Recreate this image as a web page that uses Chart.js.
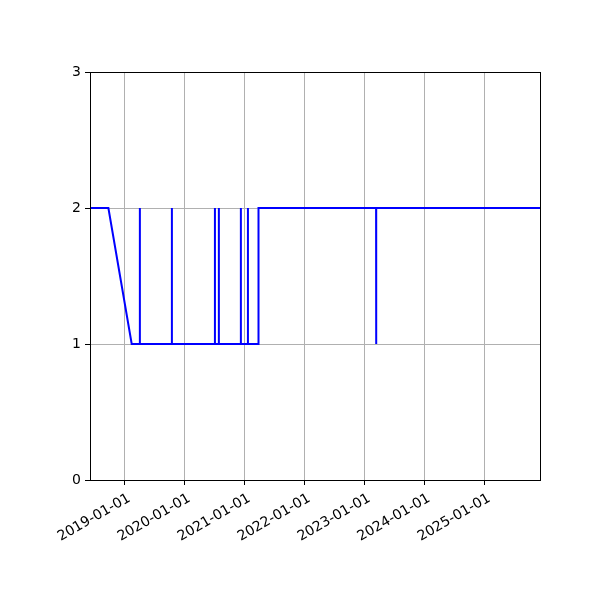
<!DOCTYPE html>
<html>
<head>
<meta charset="utf-8">
<script src="https://cdn.jsdelivr.net/npm/chart.js@4"></script>
<style>
html,body{margin:0;padding:0;background:#fff;}
#wrap{width:600px;height:600px;}
</style>
</head>
<body>
<div id="wrap"><canvas id="c" width="600" height="600"></canvas></div>
<script>
const dates = [
  '2018-06-06','2018-09-26','2019-02-15',
  '2019-04-05','2019-04-05','2019-04-06','2019-04-06',
  '2019-10-17','2019-10-17','2019-10-18','2019-10-18',
  '2020-07-05','2020-07-05','2020-07-06','2020-07-06',
  '2020-07-29','2020-07-29','2020-07-30','2020-07-30',
  '2020-12-10','2020-12-10','2020-12-11','2020-12-11',
  '2021-01-22','2021-01-22','2021-01-23','2021-01-23',
  '2021-03-28','2021-03-28',
  '2023-03-14','2023-03-14','2023-03-15','2023-03-15',
  '2025-12-06'
];
const values = [
  2,2,1,
  1,2,2,1,
  1,2,2,1,
  1,2,2,1,
  1,2,2,1,
  1,2,2,1,
  1,2,2,1,
  1,2,
  2,1,1,2,
  2
];
const xMin = '2018-06-06';
const xMax = '2025-12-06';
const yearTicks = ['2019-01-01','2020-01-01','2021-01-01','2022-01-01','2023-01-01','2024-01-01','2025-01-01'];
const yTicks = [0,1,2,3];

const ms = s => Date.parse(s + 'T00:00:00Z');
const fmt = v => new Date(v).toISOString().slice(0,10);

const points = dates.map((d,i) => ({x: ms(d), y: values[i]}));

const framePlugin = {
  id: 'frame',
  afterDraw(chart){
    const a = chart.chartArea, ctx = chart.ctx;
    ctx.save();
    ctx.strokeStyle = '#000';
    ctx.lineWidth = 1;
    ctx.strokeRect(Math.round(a.left)+0.5, Math.round(a.top)+0.5, Math.round(a.right-a.left), Math.round(a.bottom-a.top));
    ctx.restore();
  }
};

new Chart(document.getElementById('c'), {
  type: 'line',
  data: {
    datasets: [{
      data: points,
      borderColor: '#0000ff',
      borderWidth: 2,
      pointRadius: 0,
      tension: 0,
      fill: false
    }]
  },
  options: {
    responsive: false,
    animation: false,
    devicePixelRatio: 1,
    layout: {padding: {left: 0, top: 72, right: 60, bottom: 0}},
    plugins: {legend: {display: false}, tooltip: {enabled: false}},
    scales: {
      x: {
        type: 'linear',
        min: ms(xMin),
        max: ms(xMax),
        afterBuildTicks(scale){ scale.ticks = yearTicks.map(t => ({value: ms(t)})); },
        afterFit(scale){ scale.height = 120; },
        grid: {color: '#b0b0b0', lineWidth: 1, tickColor: '#000', tickLength: 5, drawTicks: true},
        border: {display: false},
        ticks: {
          color: '#000',
          font: {family: 'DejaVu Sans', size: 14},
          maxRotation: 30, minRotation: 30,
          padding: 5,
          labelOffset: 5,
          autoSkip: false,
          callback: v => fmt(v)
        }
      },
      y: {
        min: 0, max: 3,
        afterBuildTicks(scale){ scale.ticks = yTicks.map(v => ({value: v})); },
        afterFit(scale){ scale.width = 90; },
        grid: {color: '#b0b0b0', lineWidth: 1, tickColor: '#000', tickLength: 5, drawTicks: true},
        border: {display: false},
        ticks: {
          color: '#000',
          font: {family: 'DejaVu Sans', size: 14},
          padding: 4,
          callback: v => String(v)
        }
      }
    }
  },
  plugins: [framePlugin]
});
</script>
</body>
</html>
